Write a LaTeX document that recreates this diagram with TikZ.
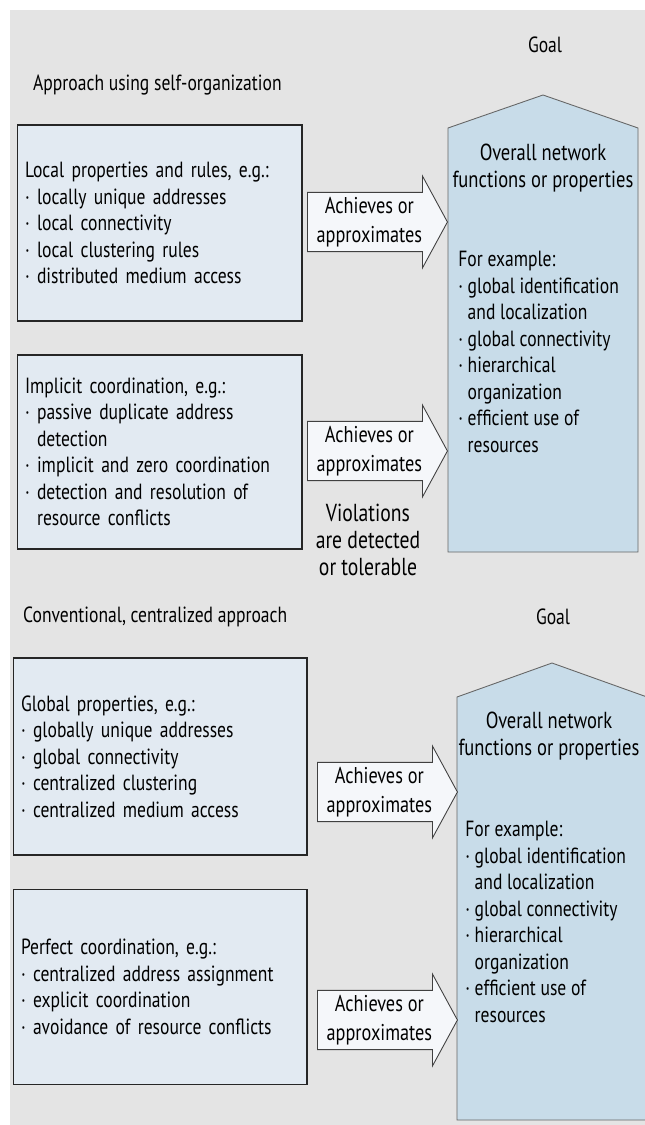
\documentclass[tikz,border=0pt]{standalone}
\usepackage{fontspec}
\setmainfont{PT Sans}[FakeStretch=0.8]
\usetikzlibrary{shapes.arrows}

\definecolor{bggray}{RGB}{228,228,228}
\definecolor{boxblue}{RGB}{226,234,242}
\definecolor{goalblue}{RGB}{200,220,233}
\definecolor{arrowwhite}{RGB}{245,247,250}
\newcommand{\ind}{\hphantom{·\ }}

\begin{document}
\begin{tikzpicture}[x=0.02cm, y=-0.02cm,
    every node/.style={font=\fontsize{12.5pt}{15.1pt}\selectfont, text=black},
    bigtext/.style={font=\fontsize{13.2pt}{15.5pt}\selectfont},
    propbox/.style={draw=black!85, line width=0.6pt, fill=boxblue, align=left,
        inner xsep=0.16cm, text width=#1},
    achv/.style={single arrow, draw=black!75, line width=0.5pt, fill=arrowwhite,
        align=center, anchor=tail, minimum height=2.8cm, minimum width=1.84cm,
        single arrow head extend=0.3cm, single arrow tip angle=123, inner sep=1pt,
        font=\fontsize{13pt}{16.5pt}\selectfont},
    goal/.style={draw=black!60, line width=0.5pt, fill=goalblue}]
    \useasboundingbox (0,0) rectangle (645,1125);

    % Fondo
    \fill[bggray] (10,10) rectangle (645,1125);

    % Parte superior: self-organization
    \node[anchor=west] (head1) at (27,85) {Approach using self-organization};
    \node (goal1) at (545,45) {Goal};

    \node[propbox=5.38cm, minimum height=3.92cm, minimum width=5.7cm] (local) at (159.5,223)
        {Local properties and rules, e.g.:\\
         · locally unique addresses\\
         · local connectivity\\
         · local clustering rules\\
         · distributed medium access};
    \node[propbox=5.38cm, minimum height=3.88cm, minimum width=5.7cm] (implicit) at (159.5,452)
        {Implicit coordination, e.g.:\\
         · passive duplicate address\\
         \ind detection\\
         · implicit and zero coordination\\
         · detection and resolution of\\
         \ind resource conflicts};

    % Pentagono objetivo 1
    \draw[goal] (448,552) -- (448,128) -- (543,95) -- (638,128) -- (638,552) -- cycle;
    \node[bigtext, align=center] (over1) at (543,168) {Overall network\\functions or properties};
    \node[align=left, anchor=north west, inner sep=0pt] (ex1) at (458,251)
        {For example:\\
         · global identification\\
         \ind and localization\\
         · global connectivity\\
         · hierarchical\\
         \ind organization\\
         · efficient use of\\
         \ind resources};

    % Flechas
    \node[achv] (ach1) at (307,222) {Achieves or\\approximates};
    \node[achv] (ach2) at (307,451) {Achieves or\\approximates};
    \node[align=center, font=\fontsize{14pt}{15.5pt}\selectfont] (viol) at (368,540)
        {Violations\\are detected\\or tolerable};

    % Parte inferior: centralizado
    \node[anchor=west] (head2) at (17,617) {Conventional, centralized approach};
    \node (goal2) at (553,617) {Goal};

    \node[propbox=5.56cm, minimum height=3.94cm, minimum width=5.88cm] (global) at (160,756.5)
        {Global properties, e.g.:\\
         · globally unique addresses\\
         · global connectivity\\
         · centralized clustering\\
         · centralized medium access};
    \node[propbox=5.56cm, minimum height=3.9cm, minimum width=5.88cm] (perfect) at (160,987)
        {Perfect coordination, e.g.:\\
         · centralized address assignment\\
         · explicit coordination\\
         · avoidance of resource conflicts};

    % Pentagono objetivo 2
    \begin{scope}
        \clip (0,0) rectangle (645,1125);
        \draw[goal] (457,1120) -- (457,697) -- (552,663) -- (647,697) -- (647,1120) -- cycle;
    \end{scope}
    \node[bigtext, align=center] (over2) at (549,736) {Overall network\\functions or properties};
    \node[align=left, anchor=north west, inner sep=0pt] (ex2) at (465,821)
        {For example:\\
         · global identification\\
         \ind and localization\\
         · global connectivity\\
         · hierarchical\\
         \ind organization\\
         · efficient use of\\
         \ind resources};

    \node[achv] (ach3) at (317,792) {Achieves or\\approximates};
    \node[achv] (ach4) at (317,1020) {Achieves or\\approximates};
\end{tikzpicture}
\end{document}
